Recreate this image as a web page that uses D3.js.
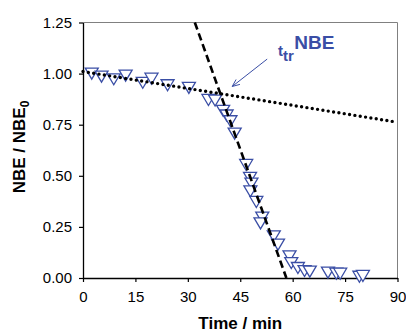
<!DOCTYPE html>
<html><head><meta charset="utf-8">
<script src="https://cdn.jsdelivr.net/npm/d3@7"></script>
<style>
html,body{margin:0;padding:0;background:#fff;}
svg{display:block;font-family:"Liberation Sans",Arial,sans-serif;}
</style></head>
<body><svg id="c" width="406" height="333"></svg>
<script>
// measured data: time (min) and normalised NBE
const timeMin = [2.5,5.3,8.8,12.2,17.1,19.6,24.2,30.3,35.9,37.8,40.1,41.1,42.2,43.4,46.7,47.8,48.2,47.9,49.6,51.3,50.8,54.6,55.8,59.1,59.6,61.5,63.4,64.9,70.1,72.5,73.6,79.1,80.1];
const nbeNorm = [1.00,0.985,0.972,0.99,0.955,0.975,0.943,0.93,0.871,0.868,0.818,0.795,0.767,0.706,0.553,0.49,0.462,0.424,0.372,0.295,0.267,0.204,0.163,0.106,0.073,0.049,0.034,0.031,0.026,0.021,0.021,0.006,0.01];
// fitted lines (endpoints in data units)
const slowLineT = [0,90], slowLineV = [1.01,0.762];
const fastLineT = [32,58.2], fastLineV = [1.25,0];
// annotation arrow (data units)
const arrowT = [52.7,42.7], arrowV = [1.071,0.937];
const labelT = 55.8, labelV = 1.085;
const xTicks = [0,15,30,45,60,75,90];
const yTicks = [0,0.25,0.5,0.75,1.0,1.25];

const svg = d3.select("#c");
const L=83, R=397.5, T=22.5, B=278;
const x = d3.scaleLinear().domain([0,90]).range([L,R]);
const y = d3.scaleLinear().domain([0,1.25]).range([B,T]);
const blue = "#3a4ea5";

// frame (top & right grey)
svg.append("path").attr("d",`M${L},${T}H${R}V${B}`).attr("fill","none").attr("stroke","#808080").attr("stroke-width",1);

// axes
const xa = svg.append("g").attr("transform",`translate(0,${B})`)
  .call(d3.axisBottom(x).tickValues(xTicks).tickFormat(d3.format("d")).tickSizeOuter(0).tickSizeInner(4).tickPadding(6));
const ya = svg.append("g").attr("transform",`translate(${L},0)`)
  .call(d3.axisLeft(y).tickValues(yTicks).tickFormat(d3.format(".2f")).tickSizeOuter(0).tickSizeInner(4).tickPadding(7));
[xa,ya].forEach(g=>{
  g.selectAll("text").attr("font-size","15px").attr("fill","#000").attr("font-family","'Liberation Sans',Arial,sans-serif");
  g.select(".domain").attr("stroke","#000").attr("stroke-width",1.3);
  g.selectAll(".tick line").attr("stroke","#000").attr("stroke-width",1.2);
});
xa.selectAll("text").attr("dy","0.95em");

// markers
const tri = "M-6.5,-5.5L6.5,-5.5L0,5.5Z";
svg.append("g").selectAll("path").data(timeMin.map((t,i)=>[t,nbeNorm[i]])).join("path")
  .attr("d",tri).attr("transform",d=>`translate(${x(d[0])},${y(d[1])})`)
  .attr("fill","#fff").attr("stroke",blue).attr("stroke-width",1.3);

// fitted lines
const ln = d3.line().x(d=>x(d[0])).y(d=>y(d[1]));
svg.append("path").attr("d",ln(slowLineT.map((t,i)=>[t,slowLineV[i]])))
  .attr("stroke","#000").attr("stroke-width",3.4).attr("stroke-linecap","round")
  .attr("stroke-dasharray","0,5.4").attr("fill","none");
svg.append("path").attr("d",ln(fastLineT.map((t,i)=>[t,fastLineV[i]])))
  .attr("stroke","#000").attr("stroke-width",2.6)
  .attr("stroke-dasharray","7.5,4").attr("fill","none");

// arrow
const x1=x(arrowT[0]), y1=y(arrowV[0]), x2=x(arrowT[1]), y2=y(arrowV[1]);
svg.append("line").attr("x1",x1).attr("y1",y1).attr("x2",x2).attr("y2",y2).attr("stroke",blue).attr("stroke-width",1);
const ang=Math.atan2(y2-y1,x2-x1), ah=8, spread=0.4;
svg.append("path").attr("d",`M${x2-ah*Math.cos(ang-spread)},${y2-ah*Math.sin(ang-spread)}L${x2},${y2}L${x2-ah*Math.cos(ang+spread)},${y2-ah*Math.sin(ang+spread)}`)
  .attr("fill","none").attr("stroke",blue).attr("stroke-width",1);

// label t_tr^NBE
const lab = svg.append("text").attr("x",x(labelT)).attr("y",y(labelV)).attr("fill",blue).attr("font-weight","bold");
lab.append("tspan").attr("font-size","15px").text("t");
lab.append("tspan").attr("font-size","15px").attr("dy",5).text("tr");
lab.append("tspan").attr("font-size","19px").attr("dy",-12.7).attr("dx",0.5).text("NBE");

// axis titles
svg.append("text").attr("x",x(45)).attr("y",328.5).attr("text-anchor","middle")
  .attr("font-size","17px").attr("font-weight","bold").text("Time / min");
const yt = svg.append("text").attr("transform","translate(25,147) rotate(-90)").attr("text-anchor","middle")
  .attr("font-size","17px").attr("font-weight","bold");
yt.append("tspan").text("NBE / NBE");
yt.append("tspan").attr("font-size","12px").attr("dy",4).text("0");
</script></body></html>
